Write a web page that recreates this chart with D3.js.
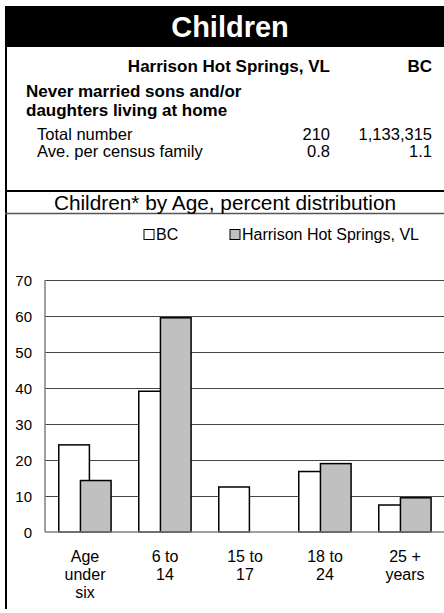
<!DOCTYPE html>
<html>
  <head>
    <meta charset="UTF-8">
    <title>Children</title>
    <style>
      body {margin: 0; background: #fff;}
      svg {display: block; font-family: "Liberation Sans", Arial, sans-serif;}
      .tick-label {font-size: 15px; fill: #000; text-anchor: end}
      .cat-label {font-size: 16px; fill: #000; text-anchor: middle}
    </style>
  </head>
  <body>
    <div id="chart"></div>
    <script src="https://d3js.org/d3.v7.min.js"></script>
    <script>

// chart data
const categories = [["Age", "under", "six"], ["6 to", "14"], ["15 to", "17"], ["18 to", "24"], ["25 +", "years"]];
const bcValues = [24.2, 39.1, 12.5, 16.8, 7.5];
const hhsValues = [14.3, 59.5, 0, 19.0, 9.5];
const yTicks = [0, 10, 20, 30, 40, 50, 60, 70];
const seriesNames = ["BC", "Harrison Hot Springs, VL"];

// summary table
const tableRows = [
  {label: "Total number", local: "210", bc: "1,133,315"},
  {label: "Ave. per census family", local: "0.8", bc: "1.1"}
];

const width = 444, height = 613;

const svg = d3.select("#chart").append("svg")
  .attr("width", width)
  .attr("height", height);

svg.append("rect").attr("width", width).attr("height", height).attr("fill", "#fff");

// title band
svg.append("rect")
  .attr("x", 5).attr("y", 6)
  .attr("width", width - 5).attr("height", 41)
  .attr("fill", "#000");

svg.append("text")
  .attr("x", 230).attr("y", 37)
  .attr("text-anchor", "middle")
  .attr("font-size", 29).attr("font-weight", "bold")
  .attr("fill", "#fff")
  .text("Children");

// frame lines
svg.append("line").attr("x1", 6).attr("x2", 6).attr("y1", 6).attr("y2", 609)
  .attr("stroke", "#000").attr("stroke-width", 2);
svg.append("line").attr("x1", 5).attr("x2", width).attr("y1", 191).attr("y2", 191)
  .attr("stroke", "#000").attr("stroke-width", 2);
svg.append("line").attr("x1", 5).attr("x2", width).attr("y1", 213.5).attr("y2", 213.5)
  .attr("stroke", "#555").attr("stroke-width", 1.5);

// table
svg.append("text").attr("x", 330).attr("y", 72)
  .attr("text-anchor", "end").attr("font-size", 17).attr("font-weight", "bold")
  .text(seriesNames[1]);
svg.append("text").attr("x", 432).attr("y", 72)
  .attr("text-anchor", "end").attr("font-size", 17).attr("font-weight", "bold")
  .text(seriesNames[0]);

svg.append("text").attr("x", 26).attr("y", 97)
  .attr("font-size", 17).attr("font-weight", "bold")
  .text("Never married sons and/or");
svg.append("text").attr("x", 26).attr("y", 116)
  .attr("font-size", 17).attr("font-weight", "bold")
  .text("daughters living at home");

tableRows.forEach((r, i) => {
  const y = 140 + i * 17;
  svg.append("text").attr("x", 37).attr("y", y).attr("font-size", 16.5).text(r.label);
  svg.append("text").attr("x", 330).attr("y", y).attr("font-size", 16.5).attr("text-anchor", "end").text(r.local);
  svg.append("text").attr("x", 432).attr("y", y).attr("font-size", 16.5).attr("text-anchor", "end").text(r.bc);
});

// chart title
svg.append("text")
  .attr("x", 225).attr("y", 210)
  .attr("text-anchor", "middle")
  .attr("font-size", 20.8)
  .text("Children* by Age, percent distribution");

// legend
const legendX = [144, 230];
const fills = ["#fff", "#c0c0c0"];
seriesNames.forEach((name, i) => {
  svg.append("rect")
    .attr("x", legendX[i]).attr("y", 229.5)
    .attr("width", 10).attr("height", 10)
    .attr("fill", fills[i]).attr("stroke", "#000").attr("stroke-width", 1);
  svg.append("text")
    .attr("x", legendX[i] + 12).attr("y", 240)
    .attr("font-size", 16)
    .text(name);
});

// scales
const xScale = d3.scaleBand().domain(d3.range(categories.length)).range([45, 445]).padding(0);
const yScale = d3.scaleLinear().domain([0, 70]).range([532, 280]);
const bw = xScale.bandwidth();
const barW = bw * 0.383;

// gridlines
svg.append("g")
  .selectAll("line")
  .data(yTicks.filter(d => d > 0))
  .join("line")
  .attr("x1", 45).attr("x2", width)
  .attr("y1", d => Math.round(yScale(d)) + 0.5)
  .attr("y2", d => Math.round(yScale(d)) + 0.5)
  .attr("stroke", "#444").attr("stroke-width", 1);

// y axis line
svg.append("line").attr("x1", 45).attr("x2", 45).attr("y1", yScale(70)).attr("y2", yScale(0))
  .attr("stroke", "#808080").attr("stroke-width", 1.5);

// tick labels
svg.append("g")
  .selectAll("text")
  .data(yTicks)
  .join("text")
  .attr("class", "tick-label")
  .attr("x", 32)
  .attr("y", d => yScale(d) + 5.5)
  .text(d => d);

// bars
svg.append("g")
  .selectAll("rect")
  .data(bcValues)
  .join("rect")
  .attr("x", (d, i) => xScale(i) + bw * 0.172)
  .attr("y", d => yScale(d))
  .attr("width", barW)
  .attr("height", d => yScale(0) - yScale(d))
  .attr("fill", fills[0])
  .attr("stroke", "#000").attr("stroke-width", 1.5);

svg.append("g")
  .selectAll("rect")
  .data(hhsValues)
  .join("rect")
  .attr("x", (d, i) => xScale(i) + bw * 0.443)
  .attr("y", d => yScale(d))
  .attr("width", barW)
  .attr("height", d => yScale(0) - yScale(d))
  .attr("display", d => d > 0 ? null : "none")
  .attr("fill", fills[1])
  .attr("stroke", "#000").attr("stroke-width", 1.5);

// x axis line
svg.append("line").attr("x1", 45).attr("x2", width).attr("y1", yScale(0)).attr("y2", yScale(0))
  .attr("stroke", "#808080").attr("stroke-width", 1.5);

// category labels
const catG = svg.append("g")
  .selectAll("text")
  .data(categories)
  .join("text")
  .attr("class", "cat-label")
  .attr("x", (d, i) => xScale(i) + bw / 2)
  .attr("y", 562);

catG.selectAll("tspan")
  .data(d => d)
  .join("tspan")
  .attr("x", function () { return this.parentNode.getAttribute("x"); })
  .attr("dy", (d, i) => i === 0 ? 0 : 18)
  .text(d => d);

 </script>
  </body>
</html>
